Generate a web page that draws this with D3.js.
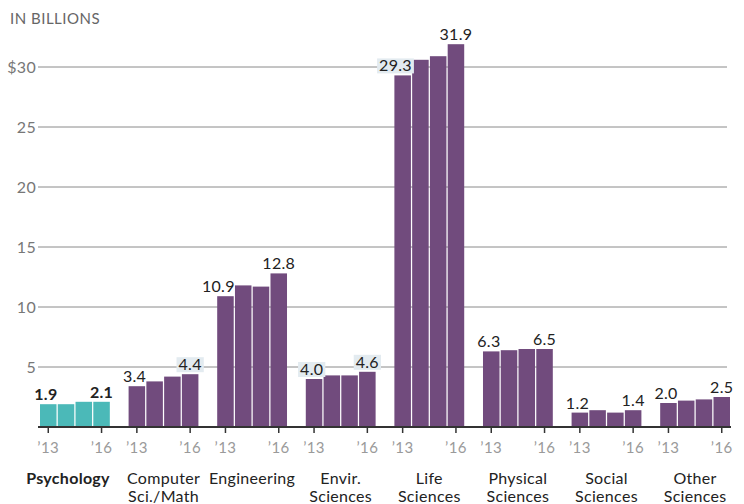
<!DOCTYPE html>
<html><head><meta charset="utf-8">
<script src="https://cdn.jsdelivr.net/npm/d3@7"></script>
<style>body{margin:0;background:#fff} svg text{font-family:Lato, "Open Sans", sans-serif}</style>
</head><body><svg id="c" width="744" height="504"></svg>
<script>
const categories = ["Psychology","Computer Sci./Math","Engineering","Envir. Sciences","Life Sciences","Physical Sciences","Social Sciences","Other Sciences"];
const categoryLines = [["Psychology"],["Computer","Sci./Math"],["Engineering"],["Envir.","Sciences"],["Life","Sciences"],["Physical","Sciences"],["Social","Sciences"],["Other","Sciences"]];
const years = ["2013","2014","2015","2016"];
const yearTickLabels = {"2013":"’13","2016":"’16"};
const psychology = [1.9,1.9,2.1,2.1];
const computerSci = [3.4,3.8,4.2,4.4];
const engineering = [10.9,11.8,11.7,12.8];
const envirSci = [4.0,4.3,4.3,4.6];
const lifeSci = [29.3,30.6,30.9,31.9];
const physicalSci = [6.3,6.4,6.5,6.5];
const socialSci = [1.2,1.4,1.2,1.4];
const otherSci = [2.0,2.2,2.3,2.5];
const seriesValues = [psychology,computerSci,engineering,envirSci,lifeSci,physicalSci,socialSci,otherSci];
const yTicks = [5,10,15,20,25,30];

const svg = d3.select("#c");
const baseY = 427, topY = 67;
const x = d3.scaleBand().domain(categories).range([40,730]).paddingInner(0.212).paddingOuter(0);
const xi = d3.scaleBand().domain(years).range([0,x.bandwidth()]).paddingInner(0.07);
const y = d3.scaleLinear().domain([0,30]).range([baseY,topY]);
const purple = "#714b7d", teal = "#4bb9b8";

svg.append("text").attr("x",10).attr("y",24).attr("font-size",15).attr("letter-spacing",0.5).attr("fill","#666").text("IN BILLIONS");

// gridlines
const g = svg.append("g");
yTicks.forEach(t=>{
  g.append("line").attr("x1",38).attr("x2",727).attr("y1",y(t)).attr("y2",y(t)).attr("stroke","#8a8a8a").attr("stroke-width",1);
  g.append("text").attr("x",36).attr("y",y(t)).attr("dy","0.36em").attr("text-anchor","end")
    .attr("font-size",16).attr("letter-spacing",0.3).attr("fill","#777").text(t===30?"$30":t);
});

// bars
const groups = svg.selectAll("g.grp").data(categories).join("g").attr("class","grp")
  .attr("transform",d=>`translate(${x(d)},0)`);
groups.each(function(cat,ci){
  const gg = d3.select(this);
  const vals = seriesValues[ci];
  gg.selectAll("rect").data(years).join("rect")
    .attr("x",yr=>xi(yr)).attr("width",xi.bandwidth())
    .attr("y",(yr,i)=>y(vals[i])).attr("height",(yr,i)=>baseY-y(vals[i]))
    .attr("fill",ci===0?teal:purple);
});

// axis line
svg.append("line").attr("x1",38).attr("x2",731).attr("y1",baseY).attr("y2",baseY).attr("stroke","#333").attr("stroke-width",2);

// ticks and year labels
groups.each(function(cat,ci){
  const gg = d3.select(this);
  ["2013","2016"].forEach(yr=>{
    const cx = xi(yr)+xi.bandwidth()/2;
    gg.append("line").attr("x1",cx).attr("x2",cx).attr("y1",baseY).attr("y2",baseY+6).attr("stroke","#333").attr("stroke-width",1.5);
    gg.append("text").attr("x",cx).attr("y",453).attr("text-anchor","middle").attr("font-size",15).attr("letter-spacing",0.4).attr("fill","#9a9a9a").text(yearTickLabels[yr]);
  });
  // category labels
  const lines = categoryLines[ci];
  const t = gg.append("text").attr("font-size",16).attr("letter-spacing",0.3).attr("fill","#222")
    .attr("text-anchor",ci===0?"end":"middle")
    .attr("font-weight",ci===0?"bold":"normal");
  lines.forEach((ln,li)=>{
    t.append("tspan").attr("x",ci===0?x.bandwidth():x.bandwidth()/2).attr("y",484+li*18).text(ln);
  });
  // value labels
  const vals = seriesValues[ci];
  const specs = [
    {i:0, anchor:"end", lx: xi("2013")+xi.bandwidth()+1},
    {i:3, anchor:"middle", lx: xi("2016")+xi.bandwidth()/2}
  ];
  specs.forEach(s=>{
    const base = y(vals[s.i]) - 4;
    const lab = gg.append("text").attr("x",s.lx).attr("y",base).attr("text-anchor",s.anchor)
      .attr("font-size",16).attr("letter-spacing",0.3).attr("fill","#222").attr("font-weight",ci===0?"bold":"normal")
      .text(vals[s.i].toFixed(1));
    const crosses = yTicks.some(t=>y(t)>base-13 && y(t)<base+2);
    if(crosses){
      const bb = lab.node().getBBox();
      gg.insert("rect","text").attr("x",bb.x-2).attr("width",bb.width+4).attr("y",base-13).attr("height",15).attr("fill","#e3ebf0");
    }
  });
});
</script></body></html>
